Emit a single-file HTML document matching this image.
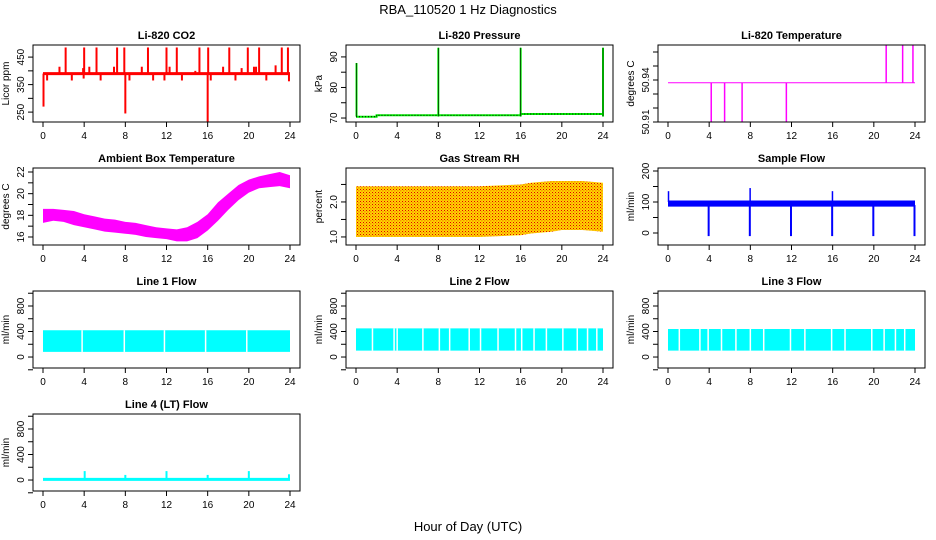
<!DOCTYPE html>
<html><head><meta charset="utf-8"><style>
body{margin:0;background:#fff;}
svg{display:block;font-family:"Liberation Sans",Arial,sans-serif;}
</style></head><body>
<svg id="c" width="936" height="540" viewBox="0 0 936 540" xmlns="http://www.w3.org/2000/svg">
<defs>
<pattern id="rhpat" width="3" height="3" patternUnits="userSpaceOnUse">
<rect width="3" height="3" fill="#ffd400"/><rect x="0" y="0" width="1" height="1" fill="#e00000"/><rect x="1.5" y="1.5" width="0.8" height="0.8" fill="#e00000"/>
</pattern>
</defs>
<text x="468" y="14" text-anchor="middle" font-size="13">RBA_110520  1 Hz Diagnostics</text>
<text x="468" y="531" text-anchor="middle" font-size="13">Hour of Day (UTC)</text>
</svg>
<script>
// ---- data ----
const xTicks=[0,4,8,12,16,20,24];
const co2Base=[[0,390],[24,390]];
const co2SpikeHours=[2.2,4.0,5.2,7.2,7.9,10.2,12.0,13.0,15.2,16.05,18.1,19.9,21.0,23.2,23.8,1.6,3.9,4.5,6.9,9.6,12.3,14.8,17.5,19.3,20.5,20.7,22.6,0.4,2.8,3.95,5.6,8.4,10.7,11.8,13.5,16.3,18.7,21.7,23.9,0.05,8.0,16.0];
const co2SpikeValues=[485,485,485,485,485,485,485,485,485,485,485,485,485,485,485,415,410,415,415,415,415,400,415,410,415,415,420,365,365,372,365,365,365,365,365,365,365,365,362,270,245,215];
const presBaseHours=[0,2,2,16,16,24];
const presBaseValues=[70.4,70.4,70.9,70.9,71.3,71.3];
const presSpikeHours=[0.05,8.0,16.0,24.0];
const presSpikeValues=[88,93,93,93];
const tempBase=50.938;
const tempSpikeHours=[4.2,5.5,7.2,11.5,21.2,22.8,23.8];
const tempSpikeValues=[50.91,50.91,50.91,50.91,50.965,50.965,50.965];
const ambHours=[0,1,2,3,4,5,6,7,8,9,10,11,12,13,14,15,16,17,18,19,20,21,22,23,24];
const ambUpper=[18.6,18.6,18.5,18.4,18.1,17.9,17.7,17.6,17.4,17.3,17.1,16.9,16.8,16.7,16.9,17.4,18.1,19.2,20.0,20.8,21.3,21.6,21.8,22.0,21.7];
const ambLower=[17.3,17.5,17.4,17.1,16.9,16.7,16.5,16.4,16.3,16.2,16.0,15.9,15.8,15.6,15.6,15.9,16.6,17.5,18.5,19.4,20.1,20.5,20.6,20.7,20.5];
const rhHours=[0,4,8,12,16,17,19,20,22,24];
const rhUpper=[2.45,2.45,2.45,2.45,2.5,2.55,2.6,2.6,2.6,2.55];
const rhLower=[1.0,1.0,1.0,1.0,1.05,1.1,1.15,1.2,1.2,1.15];
const sfHours=[0,24];
const sfUpper=[105,105];
const sfLower=[85,85];
const sfDipHours=[3.95,7.95,11.95,15.95,19.95,23.95];
const sfDipValues=[-10,-10,-10,-10,-10,-10];
const sfPeakHours=[0.05,7.98,15.98];
const sfPeakValues=[135,145,135];
const l1Upper=420, l1Lower=80;
const l1Gaps=[3.8,7.9,11.8,15.8,19.8];
const l2Upper=450, l2Lower=100;
const l2Gaps=[1.6,3.7,4.0,6.5,8.1,9.1,11.0,12.1,13.8,15.5,16.1,17.3,18.5,20.1,21.5,22.5,23.4];
const l3Upper=440, l3Lower=100;
const l3Gaps=[1.1,3.1,3.9,5.2,6.6,8.0,9.3,11.9,13.3,15.9,17.2,19.8,21.0,22.1,23.0];
const l4Base=10;
const l4SpikeHours=[4.05,8.0,12.0,16.0,20.0,23.9];
const l4SpikeValues=[140,80,140,80,140,90];

// ---- helpers ----
const svg=document.getElementById('c');
const NS='http://www.w3.org/2000/svg';
function mk(tag,attrs,parent){const e=document.createElementNS(NS,tag);for(const k in attrs)e.setAttribute(k,attrs[k]);(parent||svg).appendChild(e);return e;}
const lefts=[33,346,658], tops=[45,168,291,414], W=267, H=77;
function panel(col,row,title,ylab,ymin,ymax,ticks,labels,name){
  const L=lefts[col],T=tops[row];
  const g=mk('g',{});
  
  
  const x=h=>L+10+h/24*(W-20);
  const y=v=>T+H-(v-ymin)/(ymax-ymin)*H;
  const t=mk('text',{x:L+W/2,y:T-6,'text-anchor':'middle','font-size':11,'font-weight':'bold'},g);t.textContent=title;
  
  
  xTicks.forEach(h=>{
    mk('line',{x1:x(h),x2:x(h),y1:T+H,y2:T+H+5,stroke:'#000'},g);
    const tl=mk('text',{x:x(h),y:T+H+17,'text-anchor':'middle','font-size':10},g);tl.textContent=h;
    
    
  });
  ticks.forEach((v,i)=>{
    mk('line',{x1:L,x2:L-5,y1:y(v),y2:y(v),stroke:'#000'},g);
    if(labels[i]){const tl=mk('text',{x:L-9,y:y(v),'text-anchor':'middle','font-size':10,transform:`rotate(-90 ${L-9} ${y(v)})`},g);tl.textContent=labels[i];
      
      }
  });
  const yl=mk('text',{x:L-24,y:T+H/2,'text-anchor':'middle','font-size':10,transform:`rotate(-90 ${L-24} ${T+H/2})`},g);yl.textContent=ylab;
  
  
  const data=mk('g',{},g);
  mk('rect',{x:L,y:T,width:W,height:H,fill:'none',stroke:'#000'},g);
  return {x,y,g:data};
}
function band(p,hours,up,lo,fill,name){
  let pts=hours.map((h,i)=>p.x(h)+','+p.y(up[i]));
  pts=pts.concat(hours.map((h,i)=>p.x(h)+','+p.y(lo[i])).reverse());
  const e=mk('polygon',{points:pts.join(' '),fill:fill},p.g);
  
  
}
function spikes(p,hours,vals,base,color,w,name){
  hours.forEach((h,i)=>{const e=mk('line',{x1:p.x(h),x2:p.x(h),y1:p.y(base),y2:p.y(vals[i]),stroke:color,'stroke-width':w},p.g);
    
    });
}

// CO2
let p=panel(0,0,'Li-820 CO2','Licor ppm',214,494,[250,300,350,400,450],['250','','350','','450'],'co2');
spikes(p,co2SpikeHours,co2SpikeValues,390,'#ff0000',2,'co2-spike');
let e=mk('line',{x1:p.x(co2Base[0][0]),x2:p.x(co2Base[1][0]),y1:p.y(co2Base[0][1]),y2:p.y(co2Base[1][1]),stroke:'#ff0000','stroke-width':3},p.g);



// Pressure
p=panel(1,0,'Li-820 Pressure','kPa',68.7,93.9,[70,75,80,85,90],['70','','80','','90'],'pressure');
e=mk('polyline',{points:presBaseHours.map((h,i)=>p.x(h)+','+p.y(presBaseValues[i])).join(' '),fill:'none',stroke:'#00ee00','stroke-width':2},p.g);


mk('polyline',{points:presBaseHours.map((h,i)=>p.x(h)+','+p.y(presBaseValues[i])).join(' '),fill:'none',stroke:'#000','stroke-width':1,'stroke-dasharray':'1 2'},p.g);
spikes(p,presSpikeHours,presSpikeValues,70.5,'#00ee00',2,'pressure-spike');
spikes(p,presSpikeHours,presSpikeValues,70.5,'#000',0.6,'pressure-spike-dots');

// Li-820 Temp
p=panel(2,0,'Li-820 Temperature','degrees C',50.91,50.965,[50.91,50.92,50.93,50.94,50.95,50.96],['50.91','','','50.94','',''],'li820-temp');
e=mk('line',{x1:p.x(0),x2:p.x(24),y1:p.y(tempBase),y2:p.y(tempBase),stroke:'#ff00ff','stroke-width':1},p.g);


spikes(p,tempSpikeHours,tempSpikeValues,tempBase,'#ff00ff',1.5,'temp-spike');

// Ambient
p=panel(0,1,'Ambient Box Temperature','degrees C',15.26,22.37,[16,17,18,19,20,21,22],['16','','18','','20','','22'],'ambient-temp');
band(p,ambHours,ambUpper,ambLower,'#ff00ff','ambient-band');

// RH
p=panel(1,1,'Gas Stream RH','percent',0.77,2.97,[1.0,1.5,2.0,2.5],['1.0','','2.0',''],'rh');
band(p,rhHours,rhUpper,rhLower,'url(#rhpat)','rh-band');

// Sample flow
p=panel(2,1,'Sample Flow','ml/min',-38.7,209.7,[0,50,100,150,200],['0','','100','','200'],'sample-flow');
band(p,sfHours,sfUpper,sfLower,'#0000ff','sample-flow-band');
spikes(p,sfDipHours,sfDipValues,90,'#0000ff',2,'sample-flow-dip');
spikes(p,sfPeakHours,sfPeakValues,100,'#0000ff',1.5,'sample-flow-peak');

const flowTicks=[-200,0,200,400,600,800,1000], flowLabels=['','0','','400','','800',''];
function flowPanel(col,row,title,up,lo,gaps,name){
  const q=panel(col,row,title,'ml/min',-172,1035,flowTicks,flowLabels,name);
  band(q,[0,24],[up,up],[lo,lo],'#00ffff',name+'-band');
  spikes(q,gaps,gaps.map(()=>up),lo,'#ffffff',1.5,name+'-gap');
  return q;
}
flowPanel(0,2,'Line 1 Flow',l1Upper,l1Lower,l1Gaps,'line1-flow');
flowPanel(1,2,'Line 2 Flow',l2Upper,l2Lower,l2Gaps,'line2-flow');
flowPanel(2,2,'Line 3 Flow',l3Upper,l3Lower,l3Gaps,'line3-flow');
p=panel(0,3,'Line 4 (LT) Flow','ml/min',-172,1035,flowTicks,flowLabels,'line4-flow');
e=mk('line',{x1:p.x(0),x2:p.x(24),y1:p.y(l4Base),y2:p.y(l4Base),stroke:'#00ffff','stroke-width':3},p.g);


spikes(p,l4SpikeHours,l4SpikeValues,l4Base,'#00ffff',2,'line4-flow-spike');
</script>
</body></html>
